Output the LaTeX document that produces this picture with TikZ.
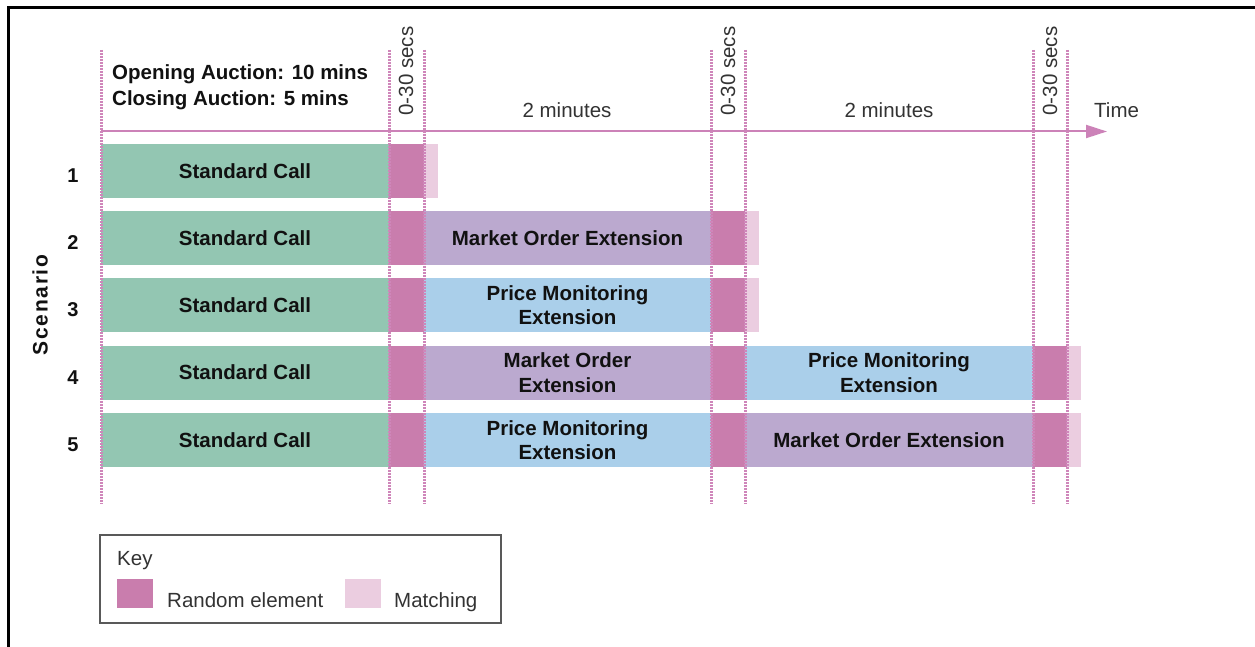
\documentclass[tikz,border=0pt]{standalone}
\usepackage{fontspec}
\setmainfont{Liberation Sans}
\usetikzlibrary{arrows.meta}
\definecolor{callgreen}{HTML}{93C6B2}
\definecolor{randpink}{HTML}{C97DAD}
\definecolor{matchpink}{HTML}{EBCDE0}
\definecolor{moepurple}{HTML}{BBA9CF}
\definecolor{pmeblue}{HTML}{AACFEA}
\definecolor{axispink}{HTML}{CC82B8}
\definecolor{dotpink}{HTML}{CF86BA}
\definecolor{textdark}{HTML}{111111}
\definecolor{textgray}{HTML}{333333}
\begin{document}
\begin{tikzpicture}[x=1pt,y=-1pt,
  bar/.style={rectangle, inner sep=0pt, minimum height=54pt, align=center,
    font=\fontsize{20.5}{24.5}\selectfont\bfseries, text=textdark},
  callbar/.style={bar, fill=callgreen, minimum width=288pt},
  randbar/.style={bar, fill=randpink, minimum width=35pt},
  matchbar/.style={bar, fill=matchpink, minimum width=13.5pt},
  moebar/.style={bar, fill=moepurple, minimum width=287pt},
  pmebar/.style={bar, fill=pmeblue, minimum width=287pt},
  rownum/.style={font=\fontsize{20}{24}\selectfont\bfseries, text=textdark},
  plainlabel/.style={font=\fontsize{20.5}{24}\selectfont, text=textgray, inner sep=0pt},
  vdots/.style={draw=dotpink, line width=3pt, dash pattern=on 2pt off 1pt},
  swatch/.style={rectangle, inner sep=0pt, minimum width=36pt, minimum height=29pt}
]
\useasboundingbox (0,0) rectangle (1255,647);
\fill[white] (0,0) rectangle (1255,647);
% frame
\draw[line width=3pt] (8.5,647) -- (8.5,7.5) -- (1255,7.5);

% time axis
\coordinate (axstart) at (101,131.5);
\coordinate (axend) at (1107,131.5);
\draw[draw=axispink, fill=axispink, line width=2pt, -{Triangle[length=21pt,width=13pt]}] (axstart) -- (axend);
\node[plainlabel, anchor=west] (time) at (1094,110) {Time};
\node[plainlabel] (min1) at (567,110) {2 minutes};
\node[plainlabel] (min2) at (889,110) {2 minutes};
\node[plainlabel, rotate=90] (sec1) at (406,71) {0-30 secs};
\node[plainlabel, rotate=90] (sec2) at (728,71) {0-30 secs};
\node[plainlabel, rotate=90] (sec3) at (1050,71) {0-30 secs};
\node[anchor=west, align=left, inner sep=0pt, text=textdark,
  font=\fontsize{20.5}{26}\selectfont\bfseries] (auct) at (112,87) {Opening Auction: 10 mins\\Closing Auction: 5 mins};

% scenario labels
\node[rotate=90, text=textdark, font=\fontsize{21}{24}\selectfont\bfseries\addfontfeatures{LetterSpace=8}] (scen) at (40,305) {Scenario};
\node[rownum] (n1) at (73,176) {1};
\node[rownum] (n2) at (73,243) {2};
\node[rownum] (n3) at (73,310) {3};
\node[rownum] (n4) at (73,378) {4};
\node[rownum] (n5) at (73,445) {5};

% row 1
\node[callbar] (c1) at (245,171) {Standard Call};
\node[randbar] (r11) at (406.5,171) {};
\node[matchbar] (m11) at (430.75,171) {};
% row 2
\node[callbar] (c2) at (245,238) {Standard Call};
\node[randbar] (r21) at (406.5,238) {};
\node[moebar] (e21) at (567.5,238) {Market Order Extension};
\node[randbar, minimum width=34pt] (r22) at (728,238) {};
\node[matchbar] (m22) at (751.75,238) {};
% row 3
\node[callbar] (c3) at (245,305) {Standard Call};
\node[randbar] (r31) at (406.5,305) {};
\node[pmebar] (e31) at (567.5,305) {Price Monitoring\\Extension};
\node[randbar, minimum width=34pt] (r32) at (728,305) {};
\node[matchbar] (m32) at (751.75,305) {};
% row 4
\node[callbar] (c4) at (245,372.5) {Standard Call};
\node[randbar] (r41) at (406.5,372.5) {};
\node[moebar] (e41) at (567.5,372.5) {Market Order\\Extension};
\node[randbar, minimum width=34pt] (r42) at (728,372.5) {};
\node[pmebar, minimum width=288pt] (e42) at (889,372.5) {Price Monitoring\\Extension};
\node[randbar, minimum width=34pt] (r43) at (1050,372.5) {};
\node[matchbar, minimum width=14pt] (m43) at (1074,372.5) {};
% row 5
\node[callbar] (c5) at (245,440) {Standard Call};
\node[randbar] (r51) at (406.5,440) {};
\node[pmebar] (e51) at (567.5,440) {Price Monitoring\\Extension};
\node[randbar, minimum width=34pt] (r52) at (728,440) {};
\node[moebar, minimum width=288pt] (e52) at (889,440) {Market Order Extension};
\node[randbar, minimum width=34pt] (r53) at (1050,440) {};
\node[matchbar, minimum width=14pt] (m53) at (1074,440) {};

% dotted guides
\foreach \gx in {101,389,424,711,745,1033,1067} {
  \draw[vdots] (\gx,50) -- (\gx,504);
}

% key
\draw[draw=black!65, line width=1.3pt] (100,535) rectangle (501,623);
\node[plainlabel, anchor=base west] (keyt) at (117,565) {Key};
\node[swatch, fill=randpink] (ks1) at (135,593.5) {};
\node[plainlabel, anchor=base west] (kl1) at (167,607) {Random element};
\node[swatch, fill=matchpink] (ks2) at (363,593.5) {};
\node[plainlabel, anchor=base west] (kl2) at (394,607) {Matching};
\end{tikzpicture}
\end{document}
